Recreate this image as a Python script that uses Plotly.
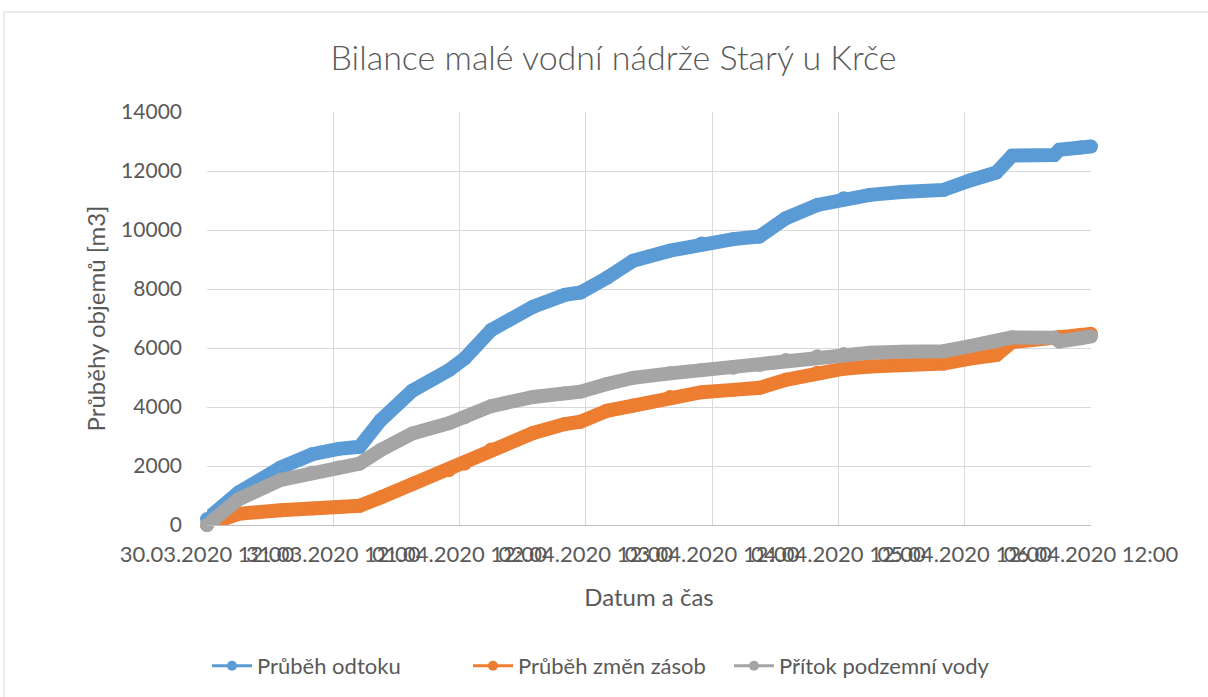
import plotly.graph_objects as go

# Time stamps of the readings
times = [
    "2020-03-30 12:00", "2020-03-30 18:00", "2020-03-31 02:00", "2020-03-31 08:00",
    "2020-03-31 13:00", "2020-03-31 17:00", "2020-03-31 21:00", "2020-04-01 03:00",
    "2020-04-01 10:00", "2020-04-01 13:00", "2020-04-01 18:00", "2020-04-02 02:00",
    "2020-04-02 08:00", "2020-04-02 11:00", "2020-04-02 16:00", "2020-04-02 21:00",
    "2020-04-03 04:00", "2020-04-03 10:00", "2020-04-03 16:00", "2020-04-03 21:00",
    "2020-04-04 02:00", "2020-04-04 08:00", "2020-04-04 13:00", "2020-04-04 18:00",
    "2020-04-05 00:00", "2020-04-05 08:00", "2020-04-05 13:00", "2020-04-05 18:00",
    "2020-04-05 21:00", "2020-04-06 05:00", "2020-04-06 06:00", "2020-04-06 10:00",
    "2020-04-06 12:00",
]

odtok = [
    200, 1100, 1950, 2400, 2580, 2650, 3550, 4550,
    5250, 5650, 6610, 7400, 7800, 7880, 8380, 8960,
    9300, 9540, 9690, 9780, 10400, 10850, 11080, 11190,
    11290, 11360, 11680, 11950, 12520, 12540, 12720, 12800,
    12830,
]

zmeny_zasob = [
    0, 380, 500, 560, 610, 650, 930, 1390,
    1860, 2080, 2560, 3120, 3420, 3500, 3870, 4050,
    4340, 4500, 4580, 4650, 4920, 5160, 5300, 5370,
    5420, 5470, 5640, 5760, 6200, 6330, 6380, 6450,
    6480,
]

pritok = [
    0, 870, 1530, 1780, 1950, 2080, 2540, 3100,
    3450, 3650, 4030, 4340, 4470, 4520, 4780, 4990,
    5140, 5250, 5330, 5420, 5590, 5720, 5800, 5840,
    5870, 5890, 6060, 6220, 6360, 6350, 6220, 6330,
    6390,
]

series_names = ["Průběh odtoku", "Průběh změn zásob", "Přítok podzemní vody"]
series_values = [odtok, zmeny_zasob, pritok]
series_colors = ["#5B9BD5", "#ED7D31", "#A5A5A5"]

tick_vals = ["2020-03-30 12:00", "2020-03-31 12:00", "2020-04-01 12:00", "2020-04-02 12:00",
             "2020-04-03 12:00", "2020-04-04 12:00", "2020-04-05 12:00", "2020-04-06 12:00"]
tick_text = ["30.03.2020 12:00", "31.03.2020 12:00", "01.04.2020 12:00", "02.04.2020 12:00",
             "03.04.2020 12:00", "04.04.2020 12:00", "05.04.2020 12:00", "06.04.2020 12:00"]

FONT = "Lato"
TXT = "#595959"

fig = go.Figure()
for name, vals, col in zip(series_names, series_values, series_colors):
    fig.add_trace(go.Scatter(
        x=times, y=vals, mode="lines+markers", name=name, showlegend=False,
        line=dict(color=col, width=14), marker=dict(color=col, size=14),
        cliponaxis=False,
    ))
# legend entries (thin line + marker as in the original)
for name, col in zip(series_names, series_colors):
    fig.add_trace(go.Scatter(
        x=[None], y=[None], mode="lines+markers", name=name,
        line=dict(color=col, width=3), marker=dict(color=col, size=10),
    ))

L, R, T, B = 207, 117, 112, 172
W, H = 1208, 697
pw, ph = W - L - R, H - T - B

fig.update_layout(
    width=W, height=H,
    margin=dict(l=L, r=R, t=T, b=B, autoexpand=False),
    paper_bgcolor="white", plot_bgcolor="white",
    font=dict(family=FONT, color=TXT, size=20),
    title=dict(text="Bilance malé vodní nádrže Starý u Krče", x=613.5 / W, xref="container",
               xanchor="center", y=1 - 58 / H, yref="container", yanchor="middle",
               font=dict(size=34, color=TXT, family=FONT, weight=300)),
    legend=dict(orientation="h", x=0, xanchor="left",
                y=(525 - 666) / ph, yanchor="middle", font=dict(size=22, color=TXT),
                itemwidth=40, tracegroupgap=0, entrywidth=206, entrywidthmode="pixels"),
    shapes=[dict(type="rect", xref="paper", yref="paper",
                 x0=(4 - L) / pw, x1=(1215 - L) / pw,
                 y0=(525 - 705) / ph, y1=(525 - 12) / ph,
                 line=dict(color="#D9D9D9", width=1), layer="below")],
)

fig.update_xaxes(
    type="date", range=["2020-03-30 12:00", "2020-04-06 12:00"],
    tickmode="array", tickvals=tick_vals, ticktext=tick_text, tickangle=0,
    showgrid=True, gridcolor="#D9D9D9", gridwidth=1,
    showline=True, linecolor="#BFBFBF", linewidth=1,
    ticks="", ticklabelstandoff=10, tickfont=dict(size=22, color=TXT),
    title=dict(text="Datum a čas", font=dict(size=24, color=TXT), standoff=22),
    zeroline=False,
)
fig.update_yaxes(
    range=[0, 14000], dtick=2000, tick0=0, tickformat="d",
    showgrid=True, gridcolor="#D9D9D9", gridwidth=1,
    showline=False, zeroline=False, ticks="", ticklabelstandoff=24,
    tickfont=dict(size=21, color=TXT),
    title=dict(text="Průběhy objemů [m3]", font=dict(size=24, color=TXT), standoff=8),
)

fig.write_html("out.html", config={"displayModeBar": False},
               post_script="document.body.style.margin='0px';")
